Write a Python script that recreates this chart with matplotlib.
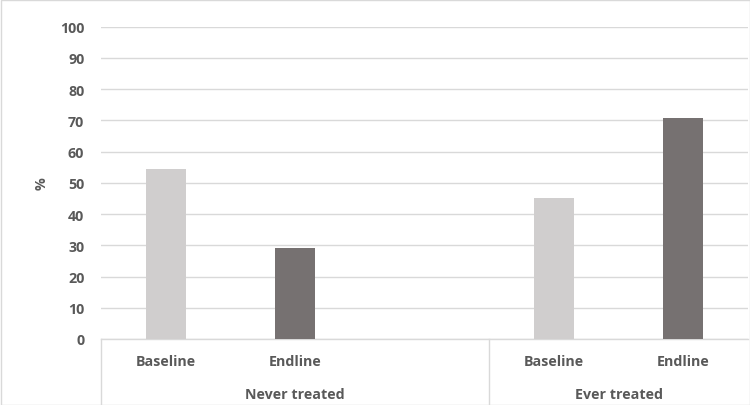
import matplotlib
matplotlib.use("Agg")
import matplotlib.pyplot as plt
from matplotlib.patches import Rectangle
from matplotlib.lines import Line2D

groups = ["Never treated", "Ever treated"]
sub_labels = ["Baseline", "Endline", "", "Baseline", "Endline"]
values = [54.5, 29.1, None, 45.3, 70.8]
bar_colors = ["#D0CECE", "#767171", None, "#D0CECE", "#767171"]
y_ticks = list(range(0, 101, 10))
y_label = "%"

txt = "#595959"
grid_c = "#D9D9D9"
fontfam = ["Open Sans", "DejaVu Sans"]
fs = 10.3

fig = plt.figure(figsize=(7.5, 4.06), dpi=100)
ax = fig.add_axes([101/750, (406-340)/406, (748-101)/750, (340-27.7)/406])

xs = list(range(len(sub_labels)))
for x, v, c in zip(xs, values, bar_colors):
    if v is not None:
        ax.bar(x, v, width=0.31, color=c, zorder=3)

ax.set_xlim(-0.5, len(sub_labels) - 0.5)
ax.set_ylim(0, 100)
ax.set_yticks(y_ticks)
ax.set_yticklabels([str(t) for t in y_ticks], fontsize=fs, fontweight="bold",
                   color=txt, family=fontfam)
ax.tick_params(axis="y", length=0, pad=12)
ax.set_xticks([])
ax.grid(axis="y", color=grid_c, linewidth=1, zorder=0)
for s in ["top", "right", "left"]:
    ax.spines[s].set_visible(False)
ax.spines["bottom"].set_color(grid_c)
ax.spines["bottom"].set_linewidth(1)

ax.set_ylabel(y_label, fontsize=fs, fontweight="bold", color=txt,
              family=fontfam, labelpad=8)

trans = ax.get_xaxis_transform()
for x, lab in zip(xs, sub_labels):
    if lab:
        ax.text(x, -0.07, lab, transform=trans, ha="center", va="center",
                fontsize=fs, fontweight="bold", color=txt, family=fontfam)

group_spans = [(-0.5, 2.5), (2.5, 4.5)]
for (a, b), g in zip(group_spans, groups):
    ax.text((a + b) / 2, -0.176, g, transform=trans, ha="center", va="center",
            fontsize=fs, fontweight="bold", color=txt, family=fontfam)

for xb in [-0.5, 2.5]:
    ax.add_line(Line2D([xb, xb], [0, -0.3], transform=trans, color=grid_c,
                       linewidth=1, clip_on=False))

fig.patches.append(Rectangle((0.5/750, 0.5/406), 749/750, 405/406,
                             transform=fig.transFigure, fill=False,
                             edgecolor=grid_c, linewidth=1))

fig.savefig("out.png", dpi=100)
